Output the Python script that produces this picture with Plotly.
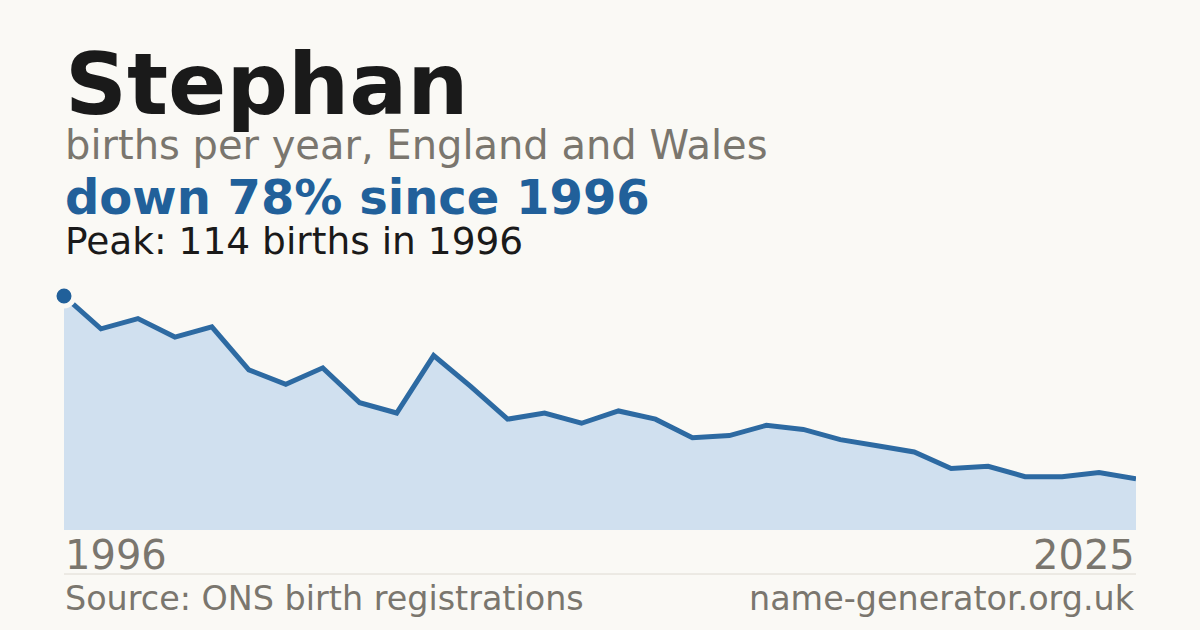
import plotly.graph_objects as go

# births per year for the name
years = list(range(1996, 2026))
births = [114, 98, 103, 94, 99, 78, 71, 79, 62, 57,
          85, 70, 54, 57, 52, 58, 54, 45, 46, 51,
          49, 44, 41, 38, 30, 31, 26, 26, 28, 25]

name = "Stephan"
subtitle = "births per year, England and Wales"
headline = "down 78% since 1996"
peak_text = "Peak: 114 births in 1996"
source_text = "Source: ONS birth registrations"
site_text = "name-generator.org.uk"

BG = "#faf9f5"
BLUE = "#21609a"
GRAY = "#7a766e"
FONT = "DejaVu Sans, sans-serif"

W, H = 1200, 630
LEFT, RIGHT, TOP, BOTTOM = 64, 1136, 296, 530


def py(pixel):
    # page pixel row -> paper y
    return (BOTTOM - pixel) / (BOTTOM - TOP)


fig = go.Figure()

fig.add_trace(go.Scatter(
    x=years, y=births,
    mode="lines",
    fill="tozeroy",
    fillcolor="#d0e0ef",
    line=dict(color="#2d6aa2", width=5),
    hoverinfo="skip",
    cliponaxis=False,
))

peak_i = births.index(max(births))
fig.add_trace(go.Scatter(
    x=[years[peak_i]], y=[births[peak_i]],
    mode="markers",
    marker=dict(size=20, color=BLUE, line=dict(color=BG, width=5)),
    hoverinfo="skip",
    cliponaxis=False,
))

texts = [
    # text, x paper, xanchor, center pixel row, size, color, bold
    (name, 0, "left", 84.0, 86, "#1a1a1a", True),
    (subtitle, 0, "left", 145.2, 40, GRAY, False),
    (headline, 0, "left", 197.4, 48, BLUE, True),
    (peak_text, 0, "left", 241.0, 37.5, "#1a1a1a", False),
    (str(years[0]), 0, "left", 555.2, 40, GRAY, False),
    (str(years[-1]), 1, "right", 555.2, 40, GRAY, False),
    (source_text, 0, "left", 598.5, 33.4, GRAY, False),
    (site_text, 1, "right", 598.5, 33.4, GRAY, False),
]
for t, x, xa, row, size, color, bold in texts:
    fig.add_annotation(
        text="<b>%s</b>" % t if bold else t,
        xref="paper", yref="paper",
        x=x, y=py(row),
        xanchor=xa, yanchor="middle",
        showarrow=False,
        borderpad=0,
        font=dict(family=FONT, size=size, color=color),
    )

# thin divider above the footer
fig.add_shape(
    type="line", xref="paper", yref="paper",
    x0=0, x1=1, y0=py(574), y1=py(574),
    line=dict(color="#dedad2", width=1),
)

fig.update_layout(
    width=W, height=H,
    margin=dict(l=LEFT, r=W - RIGHT, t=TOP, b=H - BOTTOM),
    paper_bgcolor=BG,
    plot_bgcolor=BG,
    showlegend=False,
    xaxis=dict(range=[years[0], years[-1]], visible=False, fixedrange=True),
    yaxis=dict(range=[0, max(births)], visible=False, fixedrange=True),
)

fig.write_html(
    "out.html",
    config={"displayModeBar": False},
    post_script="document.body.style.margin='0';",
)
